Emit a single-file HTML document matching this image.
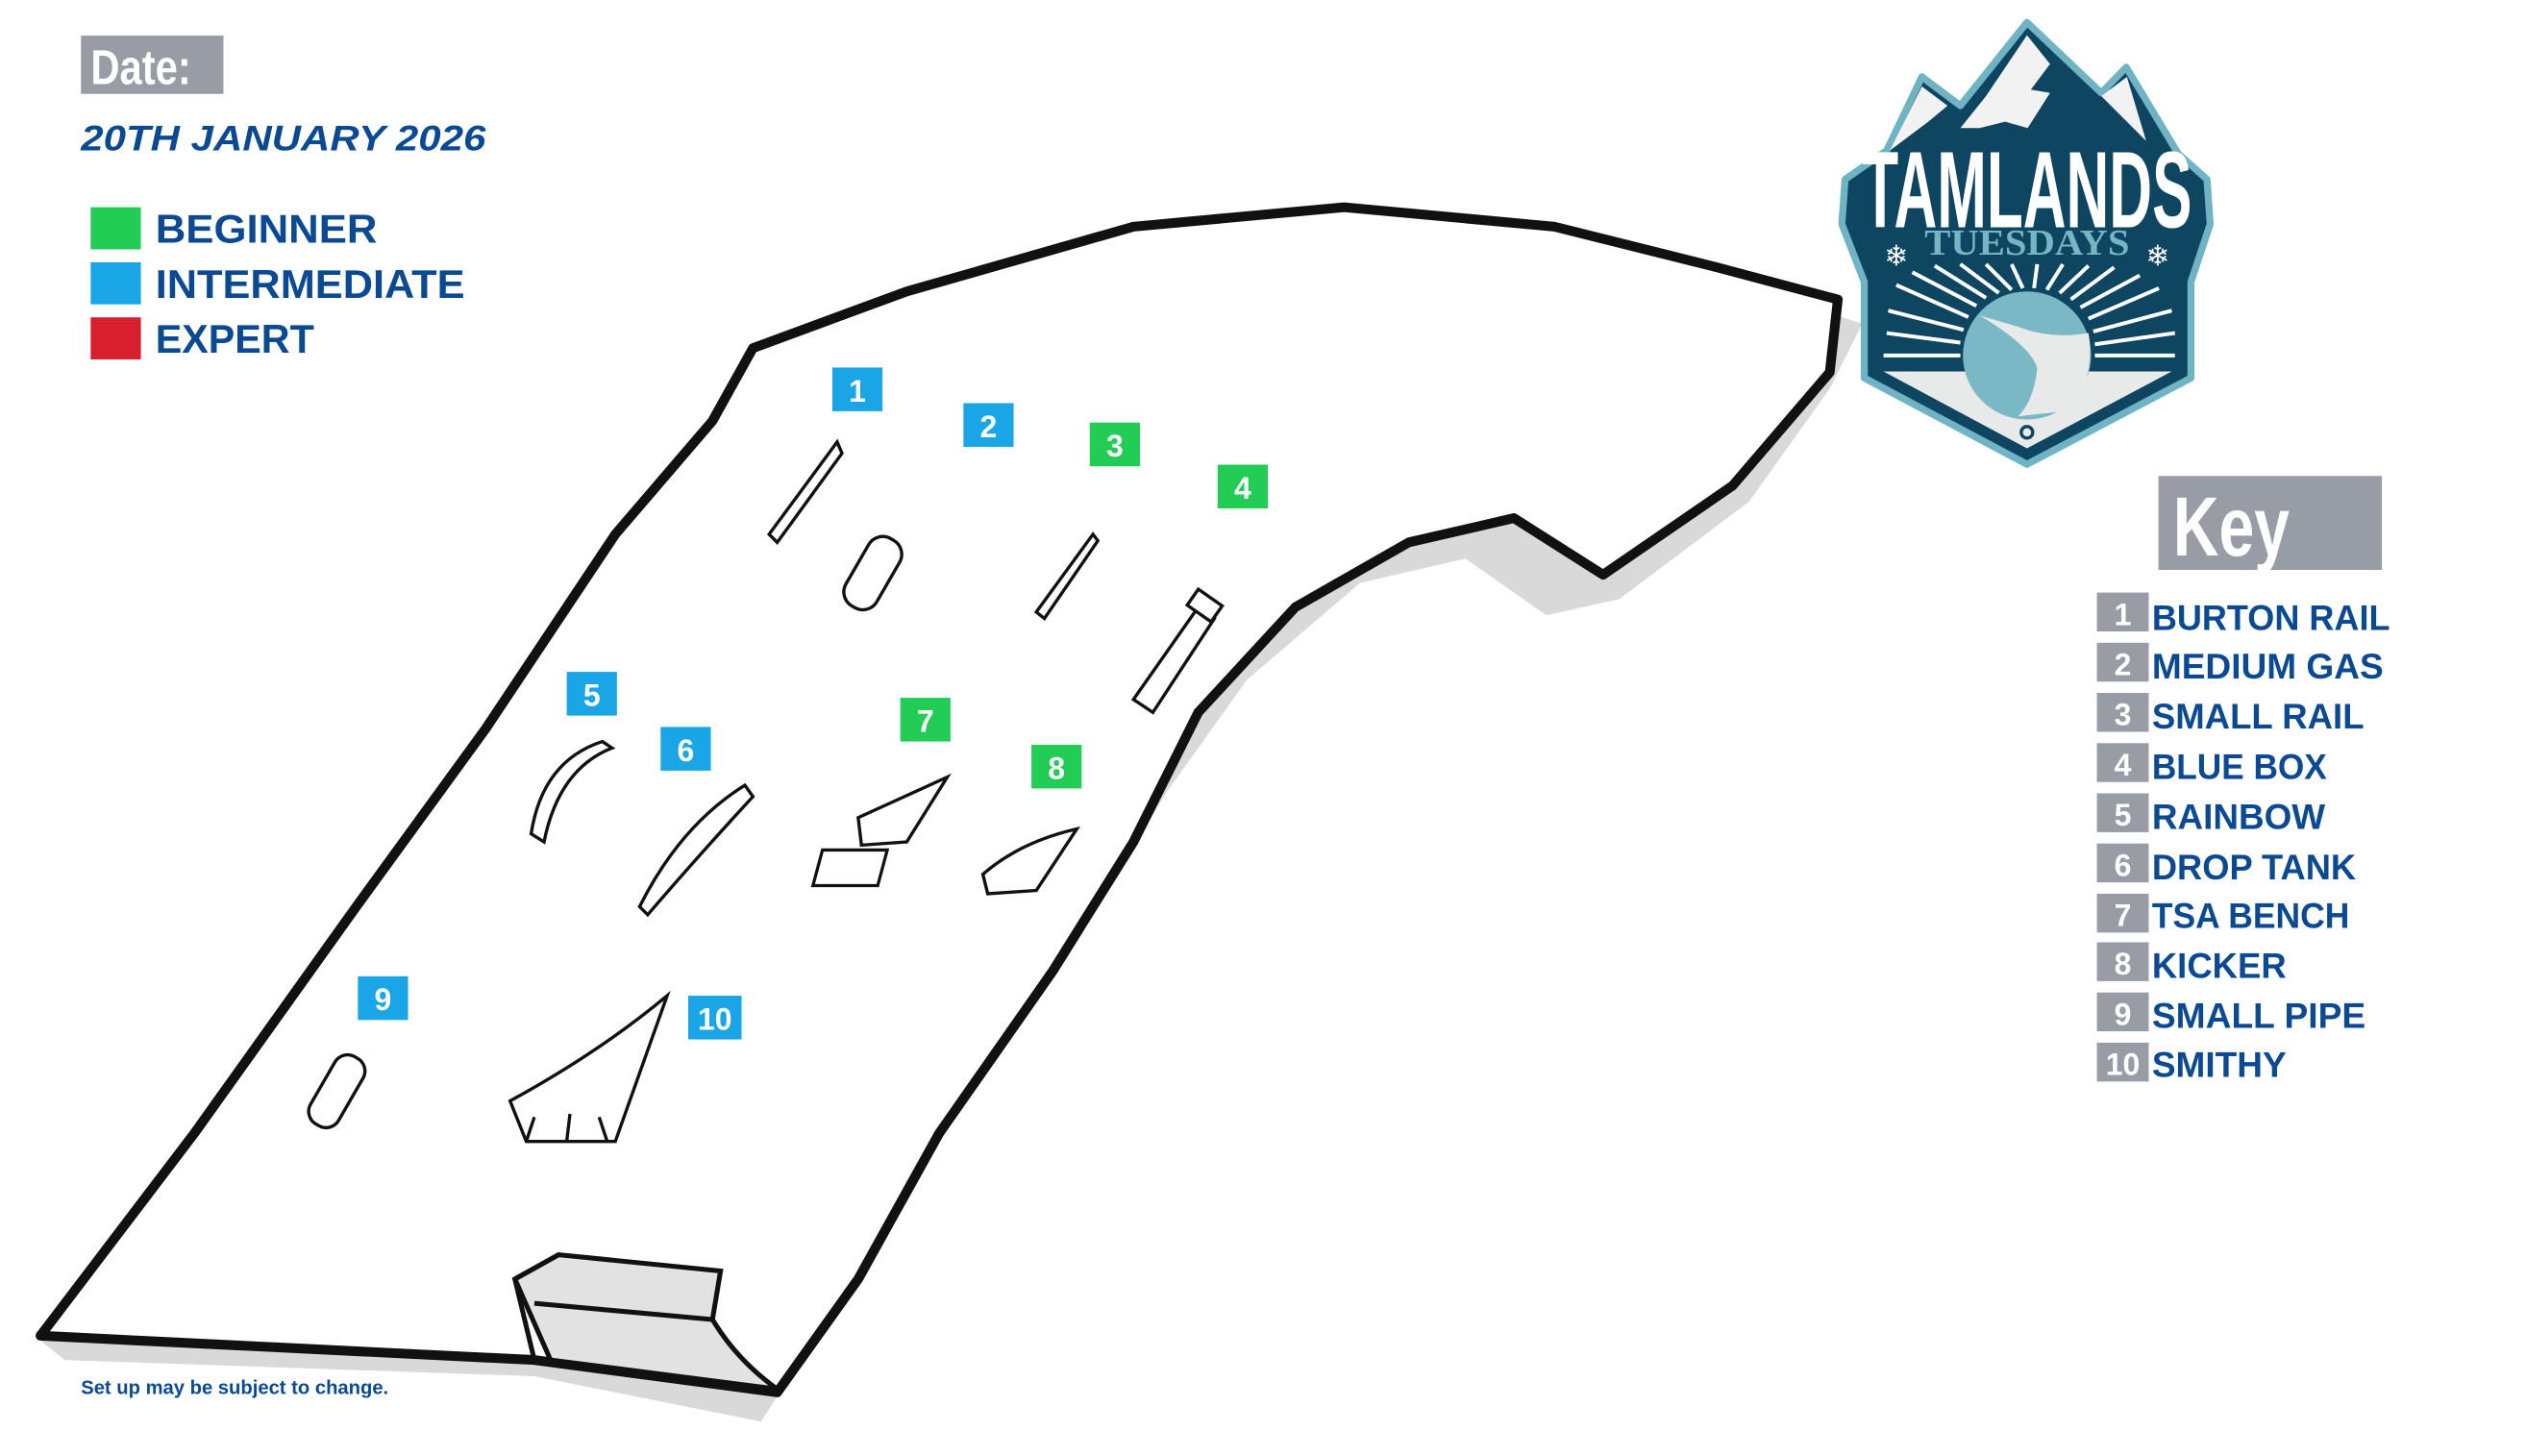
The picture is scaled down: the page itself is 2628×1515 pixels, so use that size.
<!DOCTYPE html>
<html><head><meta charset="utf-8"><style>
html,body{margin:0;padding:0;background:#fff;}
svg{display:block}
</style></head><body>
<svg width="2628" height="1515" viewBox="0 0 1560 899.3" preserveAspectRatio="none" xmlns="http://www.w3.org/2000/svg">
<!-- Date header -->
<rect x="50" y="22" width="88" height="36" fill="#979ca5"/>
<text x="56" y="52" font-family="Liberation Sans, sans-serif" font-weight="bold" font-size="30" fill="#fff" textLength="62" lengthAdjust="spacingAndGlyphs">Date:</text>
<text x="50" y="93" font-family="Liberation Sans, sans-serif" font-weight="bold" font-style="italic" font-size="22" fill="#0b4a93" textLength="250" lengthAdjust="spacingAndGlyphs">20TH JANUARY 2026</text>
<g font-family="Liberation Sans, sans-serif" font-weight="bold" font-size="25" fill="#0b4a93">
<rect x="56" y="128" width="31" height="26" fill="#22cc55"/>
<text x="96" y="150" textLength="137" lengthAdjust="spacingAndGlyphs">BEGINNER</text>
<rect x="56" y="162" width="31" height="26" fill="#1aa6e6"/>
<text x="96" y="184" textLength="191" lengthAdjust="spacingAndGlyphs">INTERMEDIATE</text>
<rect x="56" y="196" width="31" height="26" fill="#d81f30"/>
<text x="96" y="218" textLength="98" lengthAdjust="spacingAndGlyphs">EXPERT</text>
</g>

<!-- Park shadow -->
<path d="M40,840 L330,850 L470,878 L520,800 L590,690 L660,590 L720,490 L770,420 L840,360 L905,345 L955,380 L1000,370 L1080,310 L1130,240 L1150,200 L1120,190 L1130,230 L1070,300 L990,355 L935,320 L870,335 L800,375 L740,440 L700,520 L650,600 L580,700 L530,790 L480,860 L330,838 L25,828 Z" fill="#d9d9d9"/>
<!-- Park outline -->
<path d="M25,825 L120,700 L220,560 L300,450 L380,330 L440,260 L465,215 L560,180 L700,140 L830,128 L960,140 L1060,165 L1135,185 L1130,230 L1070,300 L990,355 L935,320 L870,335 L800,375 L740,440 L700,520 L650,600 L580,700 L530,790 L480,860 L330,840 Z" fill="#fff" stroke="#111" stroke-width="6" stroke-linejoin="round"/>
<!-- quarter pipe box -->
<path d="M318,790 L345,775 L445,785 L440,815 Q455,840 480,858 L340,840 Z" fill="#e2e2e2" stroke="#111" stroke-width="3"/>
<path d="M318,790 L330,840 M345,775 L318,790 M440,815 L330,805" stroke="#111" stroke-width="3" fill="none"/>

<!-- features -->
<g stroke="#111" stroke-width="2" fill="#fff">
<path d="M475,330 L517,273 L520,280 L480,335 Z"/>
<rect x="528" y="330" width="22" height="48" rx="10" transform="rotate(30 539 354)"/>
<path d="M640,378 L675,330 L678,334 L645,382 Z"/>
<path d="M700,432 L740,375 L750,382 L712,440 Z"/>
<rect x="735" y="368" width="18" height="12" transform="rotate(35 744 374)"/>
<path d="M328,515 Q335,470 372,458 L378,462 Q345,475 336,520 Z" fill="none"/>
<path d="M395,560 Q420,510 460,485 L465,492 Q430,530 400,565 Z"/>
<path d="M530,505 L585,480 L560,520 L532,522 Z"/>
<rect x="505" y="525" width="40" height="22" transform="skewX(-15)" transform-origin="525 536"/>
<path d="M607,540 Q630,520 665,512 L640,550 L610,552 Z"/>
<rect x="198" y="650" width="20" height="48" rx="9" transform="rotate(30 208 674)"/>
<path d="M315,680 Q370,650 412,615 L380,705 L325,705 Z"/>
<path d="M325,705 L330,690 M350,705 L352,688 M375,705 L370,690"/>
</g>

<!-- feature labels -->
<g font-family="Liberation Sans, sans-serif" font-weight="bold" font-size="19" fill="#fff" text-anchor="middle">
<rect x="514" y="227" width="31" height="27" fill="#1aa6e6"/><text x="529.5" y="248">1</text>
<rect x="595" y="249" width="31" height="27" fill="#1aa6e6"/><text x="610.5" y="270">2</text>
<rect x="673" y="261" width="31" height="27" fill="#22cc55"/><text x="688.5" y="282">3</text>
<rect x="752" y="287" width="31" height="27" fill="#22cc55"/><text x="767.5" y="308">4</text>
<rect x="350" y="415" width="31" height="27" fill="#1aa6e6"/><text x="365.5" y="436">5</text>
<rect x="408" y="449" width="31" height="27" fill="#1aa6e6"/><text x="423.5" y="470">6</text>
<rect x="556" y="431" width="31" height="27" fill="#22cc55"/><text x="571.5" y="452">7</text>
<rect x="637" y="460" width="31" height="27" fill="#22cc55"/><text x="652.5" y="481">8</text>
<rect x="221" y="603" width="31" height="27" fill="#1aa6e6"/><text x="236.5" y="624">9</text>
<rect x="425" y="615" width="33" height="27" fill="#1aa6e6"/><text x="441.5" y="636">10</text>
</g>

<text x="50" y="861" font-family="Liberation Sans, sans-serif" font-weight="bold" font-size="12" fill="#0b4a93">Set up may be subject to change.</text>

<!-- Logo -->
<g transform="translate(1127.6,0) scale(0.1978)">
<path d="M628,70 L860,290 L938,210 L1100,480 L1190,560 L1200,700 L1140,880 L1140,1180 L628,1450 L120,1180 L120,880 L50,700 L60,560 L190,470 L300,240 L420,330 Z" fill="#0e4560" stroke="#6fb3c4" stroke-width="22" stroke-linejoin="round"/>
<path d="M628,110 L700,200 L640,280 L700,290 L630,400 L560,380 L480,400 L420,400 L500,300 Z" fill="#f2f2f2"/>
<path d="M300,270 L380,330 L320,380 L200,470 Z" fill="#f2f2f2"/>
<path d="M940,240 L1000,440 L940,380 L860,300 Z" fill="#f2f2f2"/>
<path d="M180,1160 L1080,1160 L628,1400 Z" fill="#e8eaea"/>
<g stroke="#fff" stroke-width="12">
<line x1="180" y1="1110" x2="420" y2="1110"/><line x1="190" y1="1040" x2="420" y2="1070"/><line x1="195" y1="970" x2="430" y2="1030"/><line x1="220" y1="890" x2="445" y2="990"/><line x1="270" y1="850" x2="470" y2="955"/><line x1="340" y1="830" x2="500" y2="930"/><line x1="420" y1="825" x2="540" y2="915"/><line x1="500" y1="825" x2="580" y2="905"/><line x1="580" y1="825" x2="615" y2="900"/><line x1="660" y1="825" x2="650" y2="900"/><line x1="740" y1="825" x2="690" y2="905"/><line x1="820" y1="830" x2="730" y2="915"/><line x1="900" y1="835" x2="765" y2="935"/><line x1="980" y1="860" x2="795" y2="960"/><line x1="1040" y1="900" x2="820" y2="995"/><line x1="1080" y1="970" x2="835" y2="1035"/><line x1="1090" y1="1040" x2="840" y2="1075"/><line x1="1090" y1="1110" x2="840" y2="1110"/>
</g>
<circle cx="628" cy="1110" r="200" fill="#7bb8c6"/>
<path d="M480,985 Q640,1080 660,1150 Q650,1250 600,1300 L780,1280 Q840,1150 820,1040 Q700,1060 600,1020 Z" fill="#e8eaea"/>
<circle cx="628" cy="1350" r="18" fill="none" stroke="#0e4560" stroke-width="10"/>
<text x="628" y="710" text-anchor="middle" font-family="Liberation Sans, sans-serif" font-weight="bold" font-size="340" fill="#fff" textLength="1030" lengthAdjust="spacingAndGlyphs">TAMLANDS</text>
<text x="628" y="795" text-anchor="middle" font-family="Liberation Serif, serif" font-weight="bold" font-size="115" fill="#76b5c4" textLength="640" lengthAdjust="spacingAndGlyphs">TUESDAYS</text>
<text x="220" y="830" text-anchor="middle" font-family="DejaVu Sans, sans-serif" font-size="90" fill="#fff">❄</text>
<text x="1036" y="830" text-anchor="middle" font-family="DejaVu Sans, sans-serif" font-size="90" fill="#fff">❄</text>
</g>

<!-- Key -->
<g transform="translate(-7,0)">
<rect x="1340" y="294" width="138" height="58" fill="#979ca5"/>
<text x="1349" y="343" font-family="Liberation Sans, sans-serif" font-weight="bold" font-size="52" fill="#fff" textLength="72" lengthAdjust="spacingAndGlyphs">Key</text>
<g font-family="Liberation Sans, sans-serif" font-weight="bold" font-size="22">
<g fill="#979ca5">
<rect x="1302" y="366" width="32" height="24"/><rect x="1302" y="397" width="32" height="24"/><rect x="1302" y="428" width="32" height="24"/><rect x="1302" y="459" width="32" height="24"/><rect x="1302" y="490" width="32" height="24"/><rect x="1302" y="521" width="32" height="24"/><rect x="1302" y="552" width="32" height="24"/><rect x="1302" y="582" width="32" height="24"/><rect x="1302" y="613" width="32" height="24"/><rect x="1302" y="644" width="32" height="24"/>
</g>
<g fill="#fff" text-anchor="middle" font-size="19">
<text x="1318" y="386">1</text><text x="1318" y="417">2</text><text x="1318" y="448">3</text><text x="1318" y="479">4</text><text x="1318" y="510">5</text><text x="1318" y="541">6</text><text x="1318" y="572">7</text><text x="1318" y="602">8</text><text x="1318" y="633">9</text><text x="1318" y="664">10</text>
</g>
<g fill="#0b4a93">
<text x="1336" y="389" textLength="147" lengthAdjust="spacingAndGlyphs">BURTON RAIL</text>
<text x="1336" y="419" textLength="143" lengthAdjust="spacingAndGlyphs">MEDIUM GAS</text>
<text x="1336" y="450" textLength="131" lengthAdjust="spacingAndGlyphs">SMALL RAIL</text>
<text x="1336" y="481" textLength="108" lengthAdjust="spacingAndGlyphs">BLUE BOX</text>
<text x="1336" y="512" textLength="107" lengthAdjust="spacingAndGlyphs">RAINBOW</text>
<text x="1336" y="543" textLength="126" lengthAdjust="spacingAndGlyphs">DROP TANK</text>
<text x="1336" y="573" textLength="122" lengthAdjust="spacingAndGlyphs">TSA BENCH</text>
<text x="1336" y="604" textLength="83" lengthAdjust="spacingAndGlyphs">KICKER</text>
<text x="1336" y="635" textLength="132" lengthAdjust="spacingAndGlyphs">SMALL PIPE</text>
<text x="1336" y="665" textLength="83" lengthAdjust="spacingAndGlyphs">SMITHY</text>
</g>
</g>
</g>
</svg>
</body></html>
